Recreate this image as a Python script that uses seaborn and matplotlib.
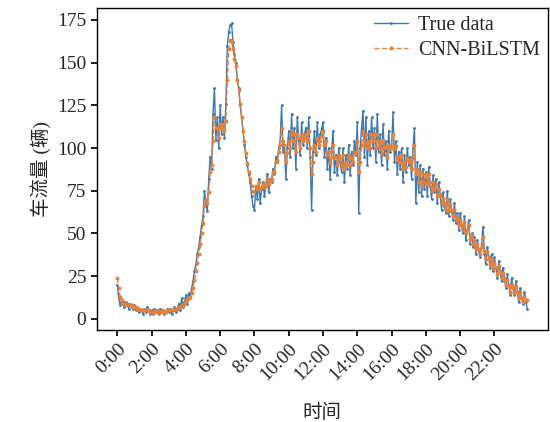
import numpy as np
import pandas as pd
import matplotlib
matplotlib.use("Agg")
import matplotlib.pyplot as plt
import seaborn as sns

# 5-minute samples over one day (hours as float)
hours = np.arange(0, 24, 1 / 12)

true_data = [
    20, 12, 8, 11, 9, 7, 10, 8, 6, 9, 7, 6,
    8, 5, 7, 4, 6, 5, 3, 6, 4, 7, 5, 3,
    5, 3, 6, 4, 5, 3, 6, 4, 5, 3, 4, 6,
    4, 6, 3, 5, 7, 4, 6, 9, 5, 12, 7, 10,
    14, 9, 15, 12, 18, 22, 28, 32, 38, 42, 48, 55,
    60, 75, 68, 63, 82, 95, 88, 120, 135, 105, 118, 100,
    125, 108, 118, 106, 126, 160, 168, 172, 173, 162, 155, 150,
    140, 135, 125, 118, 110, 102, 95, 90, 85, 80, 72, 66,
    64, 78, 70, 82, 68, 76, 80, 72, 78, 85, 74, 82,
    80, 88, 85, 95, 92, 100, 104, 125, 98, 102, 82, 100,
    110, 95, 120, 100, 112, 88, 118, 105, 96, 115, 102, 108,
    112, 100, 118, 95, 64, 98, 110, 96, 115, 100, 108, 111,
    115, 95, 106, 88, 100, 82, 98, 110, 86, 96, 84, 100,
    92, 86, 100, 80, 96, 88, 102, 84, 98, 90, 104, 96,
    115, 62, 100, 112, 122, 95, 118, 90, 110, 96, 118, 100,
    112, 92, 120, 98, 108, 90, 114, 96, 104, 88, 110, 98,
    100, 121, 92, 104, 85, 98, 88, 100, 80, 96, 86, 100,
    90, 95, 82, 100, 112, 68, 92, 74, 90, 72, 88, 76,
    86, 72, 89, 78, 70, 84, 74, 82, 68, 80, 72, 64,
    74, 66, 62, 75, 60, 70, 64, 58, 68, 56, 62, 52,
    62, 54, 50, 60, 46, 52, 58, 44, 50, 42, 48, 38,
    46, 40, 36, 44, 54, 38, 32, 42, 36, 30, 38, 28,
    36, 30, 24, 34, 28, 22, 30, 24, 18, 26, 20, 14,
    24, 18, 14, 22, 16, 10, 18, 12, 9, 16, 10, 6,
]

cnn_bilstm = [
    24, 18, 13, 11, 10, 9, 9, 9, 8, 8, 8, 7,
    7, 7, 6, 6, 5, 5, 5, 5, 5, 5, 5, 4,
    4, 4, 4, 5, 4, 4, 4, 5, 4, 4, 4, 5,
    5, 5, 5, 5, 6, 6, 6, 7, 7, 8, 8, 9,
    11, 11, 12, 13, 15, 18, 23, 28, 33, 38, 44, 50,
    56, 66, 70, 68, 74, 86, 90, 104, 118, 112, 112, 106,
    114, 112, 114, 110, 116, 140, 158, 163, 162, 158, 152, 148,
    140, 134, 126, 118, 110, 104, 97, 91, 86, 82, 78, 75,
    74, 78, 76, 80, 76, 77, 79, 77, 78, 82, 79, 81,
    82, 86, 86, 92, 93, 98, 102, 112, 104, 102, 92, 97,
    104, 100, 110, 104, 108, 98, 108, 106, 100, 108, 104, 106,
    108, 104, 110, 100, 85, 92, 102, 98, 106, 102, 104, 107,
    110, 102, 104, 96, 98, 91, 95, 102, 94, 95, 90, 96,
    94, 90, 96, 88, 92, 90, 96, 90, 94, 92, 98, 97,
    104, 86, 92, 102, 110, 102, 108, 100, 104, 100, 108, 104,
    108, 100, 108, 102, 104, 97, 105, 100, 101, 95, 102, 100,
    100, 108, 100, 101, 93, 95, 92, 96, 88, 92, 89, 94,
    92, 93, 88, 94, 102, 85, 88, 80, 86, 78, 85, 80,
    85, 79, 85, 80, 75, 80, 76, 79, 72, 76, 73, 68,
    71, 68, 64, 70, 63, 67, 64, 60, 64, 58, 60, 55,
    58, 55, 52, 57, 50, 52, 55, 47, 49, 44, 46, 41,
    44, 41, 38, 42, 48, 40, 35, 39, 36, 32, 35, 30,
    33, 30, 26, 31, 28, 24, 27, 24, 20, 23, 20, 16,
    20, 18, 15, 19, 16, 12, 15, 12, 10, 13, 11, 11,
]

tick_hours = list(range(0, 24, 2))
tick_labels = [f"{h}:00" for h in tick_hours]

df = pd.DataFrame({"time": hours, "True data": true_data, "CNN-BiLSTM": cnn_bilstm})

sns.set_theme(style="ticks")
plt.rcParams["font.family"] = ["Liberation Serif", "Noto Sans CJK SC"]

fig = plt.figure(figsize=(5.5, 4.22), dpi=100)
ax = fig.add_axes([0.176, 0.218, 0.82, 0.763])

sns.lineplot(data=df, x="time", y="True data", ax=ax, color="#3a78b0",
             linewidth=1.0, marker="o", markersize=2.0, markeredgewidth=0,
             label="True data")
sns.lineplot(data=df, x="time", y="CNN-BiLSTM", ax=ax, color="#e8803a",
             linewidth=1.0, linestyle="--", marker="o", markersize=2.8,
             markeredgewidth=0, label="CNN-BiLSTM")

ax.set_ylim(-6.5, 182)
ax.set_yticks([0, 25, 50, 75, 100, 125, 150, 175])
ax.set_xticks(tick_hours)
ax.set_xticklabels(tick_labels, rotation=45, ha="right", rotation_mode="anchor")
ax.tick_params(axis="both", labelsize=14, direction="out", length=4, color="black")

for s in ax.spines.values():
    s.set_visible(True)
    s.set_color("black")
    s.set_linewidth(1.0)

ax.set_xlabel("时间", fontsize=14, labelpad=14)
ax.set_ylabel("车流量 (辆)", fontsize=14, labelpad=4)

ax.legend(loc="upper right", frameon=False, fontsize=14.5, handlelength=1.7,
          handletextpad=0.5, borderaxespad=0.0, labelspacing=0.3)

fig.savefig("out.png", dpi=100)
